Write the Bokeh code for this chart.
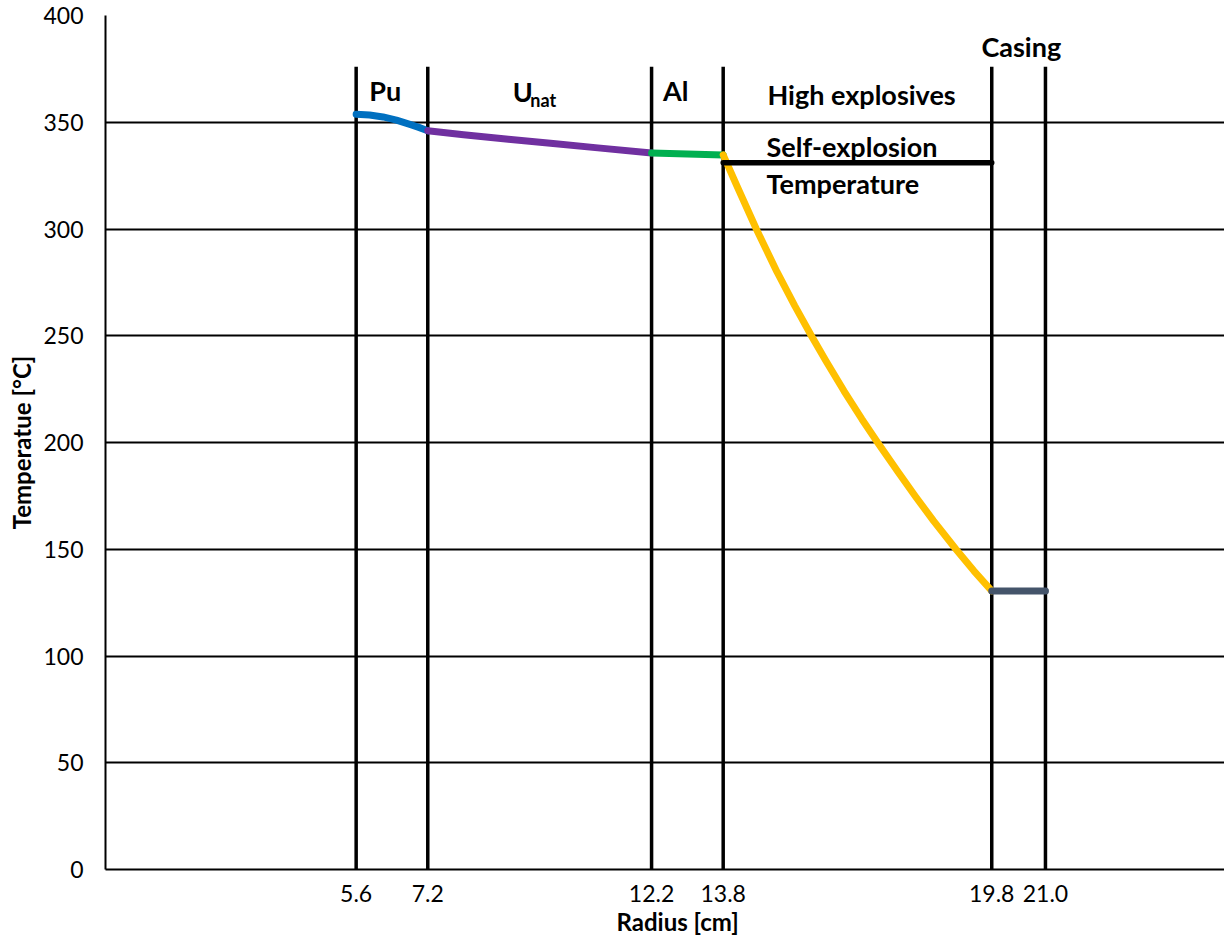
from bokeh.plotting import figure
from bokeh.models import FixedTicker, PrintfTickFormatter, Title, Range1d
from bokeh.core.properties import value
from bokeh.embed import file_html
from bokeh.resources import INLINE

# ---- data ----
boundaries = [5.6, 7.2, 12.2, 13.8, 19.8, 21.0]
boundary_top = 376
pu_r = [5.6, 5.9, 6.2, 6.5, 6.8, 7.0, 7.2]
pu_t = [353.8, 353.4, 352.5, 351.0, 349.0, 347.6, 346.0]
u_r = [7.2, 8.0, 9.0, 10.0, 11.0, 12.2]
u_t = [346.0, 344.1, 342.0, 340.0, 338.0, 335.6]
al_r = [12.2, 13.0, 13.8]
al_t = [335.6, 335.1, 334.7]
he_r = [13.8, 14.1, 14.54, 15.0, 15.4, 15.77, 16.1, 16.5, 16.9, 17.25, 17.7, 18.1, 18.5, 19.0, 19.4, 19.8]
he_t = [334.7, 320.5, 300.0, 280.0, 264.0, 250.0, 238.0, 224.1, 210.9, 200.0, 186.4, 174.6, 163.3, 150.0, 139.9, 130.5]
casing_r = [19.8, 21.0]
casing_t = [130.5, 130.5]
selfexp_r = [13.8, 19.8]
selfexp_t = [331.0, 331.0]
y_ticks = [0, 50, 100, 150, 200, 250, 300, 350, 400]

FONT = "Lato"

p = figure(width=1224, height=936, x_range=Range1d(0, 25), y_range=Range1d(0, 400),
           output_backend="svg", toolbar_location=None,
           min_border_left=105, min_border_right=0, min_border_top=15, min_border_bottom=67)
p.outline_line_color = None
p.background_fill_color = "white"
p.border_fill_color = "white"

p.xgrid.visible = False
p.ygrid.ticker = FixedTicker(ticks=y_ticks)
p.ygrid.grid_line_color = "black"
p.ygrid.grid_line_width = 2

p.xaxis.ticker = FixedTicker(ticks=boundaries)
p.xaxis.formatter = PrintfTickFormatter(format="%.1f")
p.yaxis.ticker = FixedTicker(ticks=y_ticks)
for ax in (p.xaxis, p.yaxis):
    ax.axis_line_color = "black"
    ax.axis_line_width = 2
    ax.major_tick_line_color = None
    ax.minor_tick_line_color = None
    ax.major_label_text_font = FONT
    ax.major_label_text_font_size = "23px"
    ax.major_label_text_color = "black"
p.yaxis.major_label_standoff = 16
p.xaxis.major_label_standoff = 9
p.yaxis.axis_label = "Temperatue [°C]"
p.yaxis.axis_label_text_font = FONT
p.yaxis.axis_label_text_font_style = "bold"
p.yaxis.axis_label_text_font_size = "24px"
p.yaxis.axis_label_text_color = "black"
p.yaxis.axis_label_standoff = 4

p.add_layout(Title(text="Radius [cm]", align="left", offset=511, standoff=0,
                   text_font=FONT, text_font_style="bold", text_font_size="24px",
                   text_color="black"), "below")

# boundaries
p.segment(x0=boundaries, y0=[0] * len(boundaries), x1=boundaries, y1=[boundary_top] * len(boundaries),
          line_color="black", line_width=3.5)

p.line(pu_r, pu_t, line_color="#0070C0", line_width=7, line_cap="round", line_join="round")
p.line(u_r, u_t, line_color="#7030A0", line_width=7, line_cap="round", line_join="round")
p.line(al_r, al_t, line_color="#00B050", line_width=7, line_cap="round", line_join="round")
p.line(he_r, he_t, line_color="#FFC000", line_width=7, line_cap="round", line_join="round")
p.line(selfexp_r, selfexp_t, line_color="black", line_width=5.5, line_cap="round")
p.line(casing_r, casing_t, line_color="#44546A", line_width=7, line_cap="round")

DY = 4.2  # baseline compensation (data units)

def txt(x, y, s, size="27px", align="left"):
    p.text(x=[x], y=[y + DY], text=[s], text_font=value(FONT), text_font_style="bold",
           text_font_size=size, text_align=align, text_baseline="alphabetic", text_color="black")

txt(6.25, 360.5, "Pu", align="center")
txt(9.10, 360.3, "U")
txt(9.49, 356.3, "nat", size="18px")
txt(12.74, 360.9, "Al", align="center")
txt(14.79, 358.9, "High explosives")
txt(14.77, 334.4, "Self-explosion")
txt(14.77, 317.2, "Temperature")
txt(20.46, 381.3, "Casing", align="center")

open("out.html", "w").write(file_html(p, INLINE))
